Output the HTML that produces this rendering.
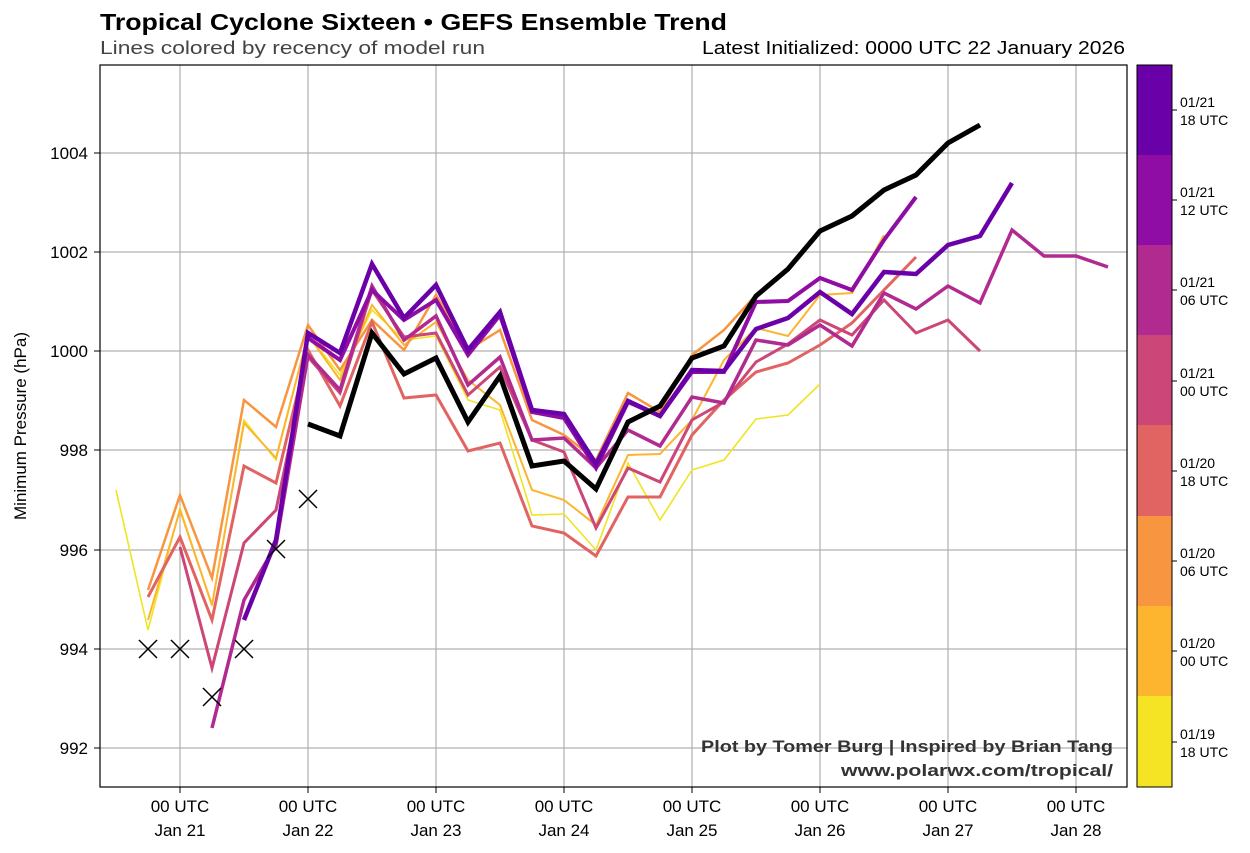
<!DOCTYPE html>
<html><head><meta charset="utf-8"><style>
body{margin:0;background:#fff;}
svg{display:block;font-family:"Liberation Sans",sans-serif;}
</style></head><body>
<svg width="1250" height="853" viewBox="0 0 1250 853">
<rect width="1250" height="853" fill="#fff"/>
<text x="100" y="30" font-size="23" font-weight="bold" fill="#000" textLength="627" lengthAdjust="spacingAndGlyphs">Tropical Cyclone Sixteen • GEFS Ensemble Trend</text>
<text x="100" y="54" font-size="18" fill="#444" textLength="385" lengthAdjust="spacingAndGlyphs">Lines colored by recency of model run</text>
<text x="702" y="54" font-size="18" fill="#000" textLength="423" lengthAdjust="spacingAndGlyphs">Latest Initialized: 0000 UTC 22 January 2026</text>
<g stroke="#b0b0b0" stroke-width="1.2">
<line x1="180" y1="65" x2="180" y2="787"/><line x1="308" y1="65" x2="308" y2="787"/><line x1="436" y1="65" x2="436" y2="787"/><line x1="564" y1="65" x2="564" y2="787"/><line x1="692" y1="65" x2="692" y2="787"/><line x1="820" y1="65" x2="820" y2="787"/><line x1="948" y1="65" x2="948" y2="787"/><line x1="1076" y1="65" x2="1076" y2="787"/>
<line x1="100" y1="153" x2="1127" y2="153"/><line x1="100" y1="252" x2="1127" y2="252"/><line x1="100" y1="351" x2="1127" y2="351"/><line x1="100" y1="450" x2="1127" y2="450"/><line x1="100" y1="550" x2="1127" y2="550"/><line x1="100" y1="649" x2="1127" y2="649"/><line x1="100" y1="748" x2="1127" y2="748"/>
</g>
<g fill="none" stroke-linejoin="miter" stroke-linecap="butt">
<polyline stroke="#f0e422" stroke-width="1.6" points="116,490 148,630 180,508 212,606 244,420 276,460 308,335 340,375 372,310 404,340 436,336 468,400 500,410 532,515 564,514 596,550 628,463 660,520 692,470 724,460 756,419 788,415 820,384"/>
<polyline stroke="#fdb42f" stroke-width="2" points="148,620 180,510 212,605 244,423 276,458 308,335 340,380 372,305 404,345 436,322 468,380 500,405 532,490 564,500 596,525 628,455 660,454 692,420 724,360 756,328 788,336 820,295 852,293 884,235"/>
<polyline stroke="#f89540" stroke-width="2.5" points="148,590 180,495 212,578 244,400 276,427 308,325 340,370 372,320 404,350 436,295 468,350 500,330 532,420 564,435 596,460 628,393 660,412 692,355 724,330 756,295"/>
<polyline stroke="#e16462" stroke-width="3" points="148,597 180,537 212,620 244,466 276,483 308,350 340,406 372,322 404,398 436,395 468,451 500,443 532,526 564,533 596,556 628,497 660,497 692,435 724,400 756,372 788,363 820,345 852,323 884,290 916,257"/>
<polyline stroke="#cc4778" stroke-width="3" points="180,547 212,668 244,543 276,510 308,357 340,393 372,290 404,337 436,333 468,395 500,367 532,440 564,452 596,528 628,468 660,482 692,420 724,402 756,362 788,344 820,320 852,335 884,300 916,333 948,320 980,351"/>
<polyline stroke="#b12a90" stroke-width="3.5" points="212,728 244,600 276,545 308,355 340,390 372,286 404,340 436,316 468,385 500,357 532,440 564,438 596,468 628,430 660,446 692,397 724,403 756,340 788,345 820,325 852,346 884,293 916,309 948,286 980,303 1012,230 1044,256 1076,256 1108,267"/>
<polyline stroke="#8f0da4" stroke-width="4" points="308,338 340,360 372,290 404,320 436,300 468,355 500,315 532,412 564,418 596,468 628,402 660,416 692,372 724,372 756,302 788,301 820,278 852,290 884,240 916,197"/>
<polyline stroke="#6a00a8" stroke-width="4.5" points="244,620 276,540 308,333 340,353 372,264 404,318 436,285 468,350 500,312 532,410 564,414 596,464 628,401 660,416 692,370 724,371 756,329 788,318 820,292 852,314 884,272 916,274 948,245 980,236 1012,183"/>
<polyline stroke="#000" stroke-width="5" points="308,424 340,436 372,333 404,374 436,358 468,422 500,376 532,466 564,461 596,489 628,422 660,406 692,358 724,346 756,296 788,269 820,231 852,216 884,190 916,175 948,143 980,125"/>
</g>
<g stroke="#000" stroke-width="1.5">
<path d="M139,640l18,18M157,640l-18,18"/><path d="M171,640l18,18M189,640l-18,18"/><path d="M203,688l18,18M221,688l-18,18"/><path d="M235,640l18,18M253,640l-18,18"/><path d="M267,540l18,18M285,540l-18,18"/><path d="M299,490l18,18M317,490l-18,18"/>
</g>
<rect x="100" y="65" width="1027" height="722" fill="none" stroke="#000" stroke-width="1.2"/>
<g font-size="17" fill="#000" text-anchor="end">
<text x="88" y="159">1004</text><text x="88" y="258">1002</text><text x="88" y="357">1000</text><text x="88" y="456">998</text><text x="88" y="556">996</text><text x="88" y="655">994</text><text x="88" y="754">992</text>
</g>
<g stroke="#000"><line x1="94" y1="153" x2="100" y2="153"/><line x1="94" y1="252" x2="100" y2="252"/><line x1="94" y1="351" x2="100" y2="351"/><line x1="94" y1="450" x2="100" y2="450"/><line x1="94" y1="550" x2="100" y2="550"/><line x1="94" y1="649" x2="100" y2="649"/><line x1="94" y1="748" x2="100" y2="748"/>
<line x1="180" y1="787" x2="180" y2="793"/><line x1="308" y1="787" x2="308" y2="793"/><line x1="436" y1="787" x2="436" y2="793"/><line x1="564" y1="787" x2="564" y2="793"/><line x1="692" y1="787" x2="692" y2="793"/><line x1="820" y1="787" x2="820" y2="793"/><line x1="948" y1="787" x2="948" y2="793"/><line x1="1076" y1="787" x2="1076" y2="793"/></g>
<text transform="translate(26,426) rotate(-90)" font-size="17" text-anchor="middle">Minimum Pressure (hPa)</text>
<g font-size="17" text-anchor="middle">
<text x="180" y="812">00 UTC</text><text x="180" y="836">Jan 21</text>
<text x="308" y="812">00 UTC</text><text x="308" y="836">Jan 22</text>
<text x="436" y="812">00 UTC</text><text x="436" y="836">Jan 23</text>
<text x="564" y="812">00 UTC</text><text x="564" y="836">Jan 24</text>
<text x="692" y="812">00 UTC</text><text x="692" y="836">Jan 25</text>
<text x="820" y="812">00 UTC</text><text x="820" y="836">Jan 26</text>
<text x="948" y="812">00 UTC</text><text x="948" y="836">Jan 27</text>
<text x="1076" y="812">00 UTC</text><text x="1076" y="836">Jan 28</text>
</g>
<g font-size="17" font-weight="bold" fill="#333">
<text x="701" y="752" textLength="412" lengthAdjust="spacingAndGlyphs">Plot by Tomer Burg | Inspired by Brian Tang</text>
<text x="841" y="776" textLength="272" lengthAdjust="spacingAndGlyphs">www.polarwx.com/tropical/</text>
</g>
<g>
<rect x="1137" y="65" width="35" height="91" fill="#6a00a8"/>
<rect x="1137" y="155" width="35" height="91" fill="#8f0da4"/>
<rect x="1137" y="245" width="35" height="91" fill="#b12a90"/>
<rect x="1137" y="335" width="35" height="91" fill="#cc4778"/>
<rect x="1137" y="425" width="35" height="91" fill="#e16462"/>
<rect x="1137" y="516" width="35" height="91" fill="#f89540"/>
<rect x="1137" y="606" width="35" height="91" fill="#fdb42f"/>
<rect x="1137" y="696" width="35" height="91" fill="#f4e424"/>
<rect x="1137" y="65" width="35" height="722" fill="none" stroke="#000" stroke-width="1"/>
</g>
<g stroke="#000"><line x1="1172" y1="110" x2="1177" y2="110"/><line x1="1172" y1="200" x2="1177" y2="200"/><line x1="1172" y1="290" x2="1177" y2="290"/><line x1="1172" y1="381" x2="1177" y2="381"/><line x1="1172" y1="471" x2="1177" y2="471"/><line x1="1172" y1="561" x2="1177" y2="561"/><line x1="1172" y1="651" x2="1177" y2="651"/><line x1="1172" y1="742" x2="1177" y2="742"/></g>
<g font-size="14" fill="#000">
<text x="1180" y="107">01/21</text><text x="1180" y="125">18 UTC</text>
<text x="1180" y="197">01/21</text><text x="1180" y="215">12 UTC</text>
<text x="1180" y="287">01/21</text><text x="1180" y="305">06 UTC</text>
<text x="1180" y="378">01/21</text><text x="1180" y="396">00 UTC</text>
<text x="1180" y="468">01/20</text><text x="1180" y="486">18 UTC</text>
<text x="1180" y="558">01/20</text><text x="1180" y="576">06 UTC</text>
<text x="1180" y="648">01/20</text><text x="1180" y="666">00 UTC</text>
<text x="1180" y="739">01/19</text><text x="1180" y="757">18 UTC</text>
</g>
</svg>
</body></html>
